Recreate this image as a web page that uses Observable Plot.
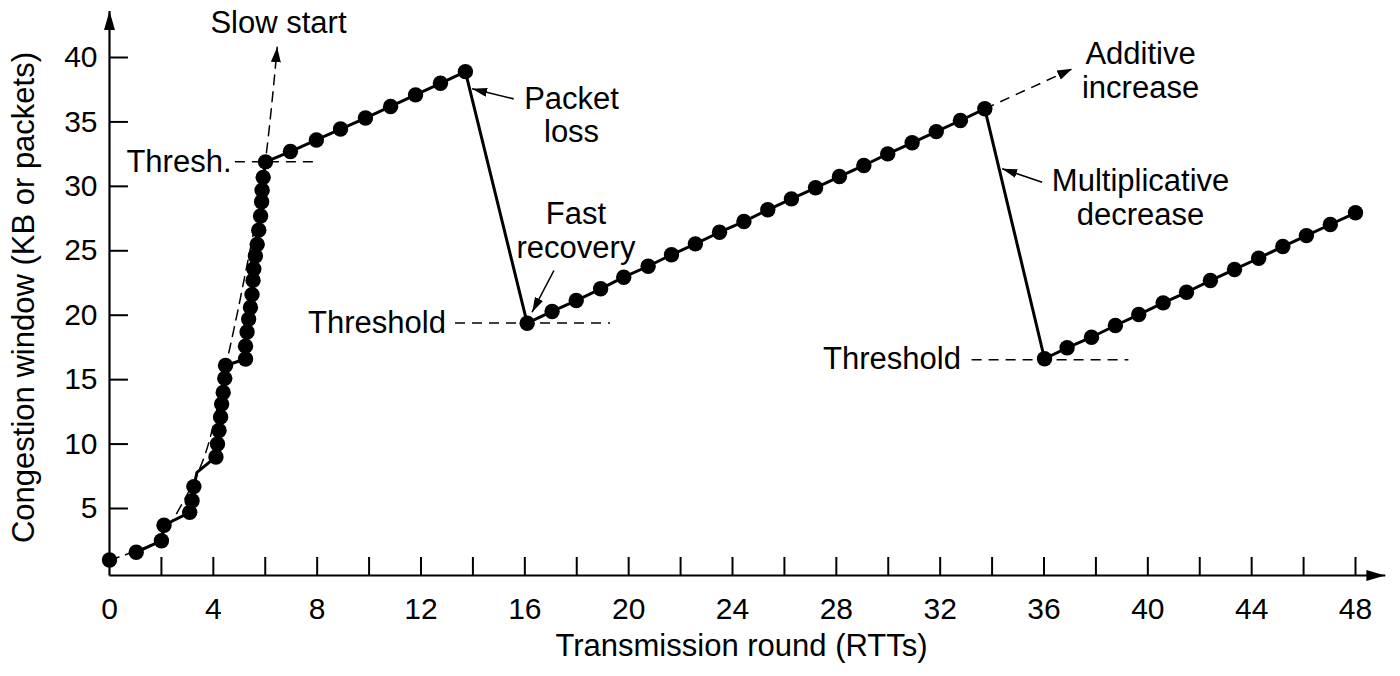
<!DOCTYPE html>
<html><head><meta charset="utf-8">
<script src="https://cdn.jsdelivr.net/npm/d3@7"></script>
<script src="https://cdn.jsdelivr.net/npm/@observablehq/plot@0.6"></script>
<style>html,body{margin:0;padding:0;background:#fff;color:#000;}</style>
</head><body><div id="chart"></div>
<script>
// ---- data ----
const rounds = [0, 1.03, 2.0, 2.1, 3.09, 3.18, 3.25, 4.1, 4.16, 4.22, 4.28, 4.32, 4.38, 4.44, 4.47,
  5.24, 5.24, 5.3, 5.36, 5.43, 5.49, 5.53, 5.56, 5.62, 5.69, 5.75, 5.82, 5.86, 5.88, 5.92, 6.01,
  6.97, 7.97, 8.9, 9.86, 10.83, 11.79, 12.75, 13.71,
  16.09, 17.05, 17.98, 18.92, 19.81, 20.75, 21.65, 22.57, 23.5, 24.44, 25.36, 26.27, 27.2, 28.12, 29.06, 29.98, 30.92, 31.85, 32.78, 33.72,
  36.02, 36.89, 37.83, 38.75, 39.65, 40.59, 41.49, 42.41, 43.34, 44.27, 45.2, 46.11, 47.03, 48.0];
const cwnd = [1.0, 1.6, 2.5, 3.7, 4.7, 5.6, 6.7, 9.0, 10.0, 11.05, 12.1, 13.1, 14.0, 15.1, 16.1,
  16.6, 17.6, 18.7, 19.7, 20.6, 21.6, 22.7, 23.6, 24.6, 25.5, 26.6, 27.7, 28.8, 29.7, 30.7, 31.9,
  32.7, 33.6, 34.45, 35.3, 36.2, 37.1, 38.0, 38.9,
  19.38, 20.29, 21.14, 22.05, 22.95, 23.8, 24.69, 25.54, 26.44, 27.27, 28.18, 29.03, 29.89, 30.76, 31.62, 32.52, 33.38, 34.25, 35.11, 36.02,
  16.62, 17.47, 18.29, 19.2, 20.05, 20.96, 21.78, 22.69, 23.55, 24.42, 25.33, 26.18, 27.04, 27.95];
// bend in the solid line without a dot
const bendRound = [3.37];
const bendWindow = [7.8];

// dashed slow-start curve
const slowRound = [0, 1.0, 1.83, 2.86, 3.7, 4.53, 5.1, 5.94, 6.46];
const slowWindow = [1.0, 1.7, 2.5, 5.6, 9.3, 16.5, 21.9, 31.0, 40.8];

// threshold dashed lines
const threshLevel = [31.9, 19.4, 16.55];
const threshFrom = [4.85, 13.33, 33.23];
const threshTo = [8.05, 19.3, 39.27];

// additive increase dashed arrow
const addFrom = [33.72, 36.02];
const addTo = [37.09, 39.12];

// annotation pointers (from -> to)
const ptrX1 = [15.57, 17.12, 35.93];
const ptrY1 = [36.79, 23.47, 30.32];
const ptrX2 = [13.97, 16.28, 34.39];
const ptrY2 = [37.57, 20.23, 31.36];

// annotation texts
const noteText = ["Slow start", "Packet\nloss", "Fast\nrecovery", "Additive\nincrease", "Multiplicative\ndecrease"];
const noteX = [6.51, 17.8, 17.97, 39.72, 39.72];
const noteY = [42.7, 35.56, 26.6, 38.99, 29.16];
const sideText = ["Thresh.", "Threshold", "Threshold"];
const sideX = [4.7, 12.96, 32.8];
const sideY = [31.9, 19.4, 16.6];

// axes
const xMinorTicks = [2,4,6,8,10,12,14,16,18,20,22,24,26,28,30,32,34,36,38,40,42,44,46,48];
const xTickLabels = [0,4,8,12,16,20,24,28,32,36,40,44,48];
const yTickLabels = [5,10,15,20,25,30,35,40];
const xTitle = "Transmission round (RTTs)";
const yTitle = "Congestion window (KB or packets)";
const yBase = -0.2, xAxisEnd = 49.15, yAxisEnd = 43.6;

// ---- build tables ----
const dots = rounds.map((x, i) => ({x, y: cwnd[i]}));
const path = dots.slice(1).concat(bendRound.map((x, i) => ({x, y: bendWindow[i]})))
  .sort((a, b) => a.x - b.x);
const slow = slowRound.map((x, i) => ({x, y: slowWindow[i]}));
const thresholds = threshLevel.map((y, i) => ({y, x1: threshFrom[i], x2: threshTo[i]}));
const additive = [{x1: addFrom[0], y1: addFrom[1], x2: addTo[0], y2: addTo[1]}];
const pointers = ptrX1.map((x1, i) => ({x1, y1: ptrY1[i], x2: ptrX2[i], y2: ptrY2[i]}));
const notes = noteText.map((t, i) => ({t, x: noteX[i], y: noteY[i]}));
const sides = sideText.map((t, i) => ({t, x: sideX[i], y: sideY[i]}));
const axes = [
  {x1: 0, y1: yBase, x2: xAxisEnd, y2: yBase},
  {x1: 0, y1: yBase, x2: 0, y2: yAxisEnd}
];

function head(len, half) {
  return (color) => {
    const m = d3.create("svg:marker")
      .attr("viewBox", `${-len} ${-half} ${len} ${2 * half}`)
      .attr("markerWidth", len).attr("markerHeight", 2 * half)
      .attr("markerUnits", "userSpaceOnUse")
      .attr("orient", "auto")
      .attr("refX", 0).attr("refY", 0);
    m.append("path").attr("d", `M${-len},${-half}L0,0L${-len},${half}Z`)
      .attr("fill", color).attr("stroke", "none");
    return m.node();
  };
}

const dash = "10,7";
const textSize = 31;
const chart = Plot.plot({
  width: 1400, height: 676,
  marginLeft: 109, marginRight: 45, marginTop: 57, marginBottom: 101,
  x: {domain: [0, 48]},
  y: {domain: [yBase, 40]},
  style: {fontFamily: "'Liberation Sans', Arial, Helvetica, sans-serif", fontSize: "30px", color: "black", background: "white"},
  marks: [
    Plot.ruleY(thresholds, {y: "y", x1: "x1", x2: "x2", strokeWidth: 1.5, strokeDasharray: dash}),
    Plot.line(slow, {x: "x", y: "y", curve: "catmull-rom", strokeWidth: 1.5, strokeDasharray: dash, markerEnd: head(15, 5)}),
    Plot.link(additive, {x1: "x1", y1: "y1", x2: "x2", y2: "y2", strokeWidth: 1.5, strokeDasharray: dash, markerEnd: head(15, 5)}),
    Plot.line(path, {x: "x", y: "y", strokeWidth: 3}),
    Plot.dot(dots, {x: "x", y: "y", r: 7.7, fill: "black", stroke: null}),
    Plot.link(pointers, {x1: "x1", y1: "y1", x2: "x2", y2: "y2", strokeWidth: 1.6, markerEnd: head(15, 4.5)}),
    Plot.ruleX(xMinorTicks, {x: d => d, y1: yBase, y2: yBase + 1.4, strokeWidth: 2}),
    Plot.ruleY(yTickLabels, {y: d => d, x1: 0, x2: 0.73, strokeWidth: 2}),
    Plot.link(axes, {x1: "x1", y1: "y1", x2: "x2", y2: "y2", strokeWidth: 2.2, markerEnd: head(19, 5.5)}),
    Plot.axisX({ticks: xTickLabels, tickSize: 0, tickPadding: 22, label: null}),
    Plot.axisY({ticks: yTickLabels, tickSize: 0, tickPadding: 12, label: null}),
    Plot.text(notes, {x: "x", y: "y", text: "t", textAnchor: "middle", lineHeight: 1.08, fontSize: textSize}),
    Plot.text(sides, {x: "x", y: "y", text: "t", textAnchor: "end", fontSize: textSize}),
    Plot.text([xTitle], {text: d => d, frameAnchor: "bottom", textAnchor: "middle", lineAnchor: "middle", dx: 9, dy: 71, fontSize: textSize}),
    Plot.text([yTitle], {text: d => d, frameAnchor: "left", textAnchor: "middle", lineAnchor: "middle", rotate: -90, dx: -85, dy: -19, fontSize: textSize})
  ]
});
document.getElementById("chart").append(chart);
</script>
</body></html>
